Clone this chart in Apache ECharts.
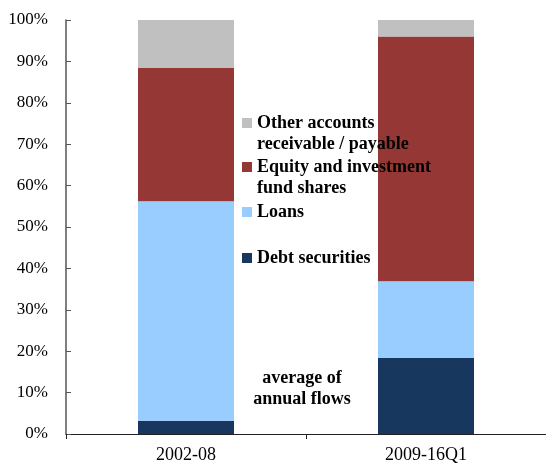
<!DOCTYPE html>
<html>
<head>
<meta charset="utf-8">
<script src="https://cdn.jsdelivr.net/npm/echarts@6/dist/echarts.min.js"></script>
<style>
  html, body { margin: 0; padding: 0; background: #fff; }
  #chart { width: 546px; height: 464px; }
</style>
</head>
<body>
<div id="chart"></div>
<script>
// categories and shares (% of total, average of annual flows)
var periods = ["2002-08", "2009-16Q1"];
var debtSecurities = [3.2, 18.4];
var loans = [53.0, 18.5];
var equityFund = [32.2, 59.1];
var otherAccounts = [11.6, 4.0];

var FONT = "'Liberation Serif', 'Times New Roman', serif";

var myChart = echarts.init(document.getElementById("chart"));

var labelStyle = {
  fontFamily: FONT,
  fontSize: 18,
  fontWeight: "bold",
  color: "#000",
  lineHeight: 21,
};

function legendFor(name, top) {
  var lines = name.split("\n");
  return {
    data: [name],
    orient: "vertical",
    left: 242,
    top: top,
    padding: 0,
    itemWidth: 10,
    itemHeight: 10,
    icon: "rect",
    selectedMode: false,
    // two-line names get an empty line on top so the icon sits on the first line
    formatter: function (n) {
      if (lines.length < 2) return "{b|" + n + "}";
      return "{e|\u00a0}\n{b|" + lines[0] + "}\n{b|" + lines[1] + "}";
    },
    textStyle: Object.assign({}, labelStyle, {
      rich: { b: labelStyle, e: labelStyle },
    }),
  };
}

var option = {
  animation: false,
  color: ["#17375E", "#99CCFF", "#953735", "#C0C0C0"],
  grid: {
    left: 66,
    top: 20,
    bottom: 30,
    width: 484,
  },
  legend: [
    legendFor("Other accounts\nreceivable / payable", 91.5),
    legendFor("Equity and investment\nfund shares", 135.5),
    legendFor("Loans", 201.5),
    legendFor("Debt securities", 247.5),
  ],
  xAxis: {
    type: "category",
    data: periods,
    axisLine: { lineStyle: { color: "#222", width: 1 } },
    axisTick: { show: true, length: 5, lineStyle: { color: "#222" } },
    axisLabel: {
      fontFamily: FONT,
      fontSize: 18,
      color: "#000",
      margin: 12,
    },
  },
  yAxis: {
    type: "value",
    min: 0,
    max: 100,
    interval: 10,
    axisLine: { show: true, lineStyle: { color: "#555", width: 1.5 } },
    axisTick: { show: true, inside: true, length: 5, lineStyle: { color: "#555" } },
    splitLine: { show: false },
    axisLabel: {
      formatter: "{value}%",
      fontFamily: FONT,
      fontSize: 17,
      color: "#000",
      margin: 18,
    },
  },
  graphic: [
    {
      type: "text",
      x: 302,
      y: 388.5,
      style: {
        text: "average of\nannual flows",
        align: "center",
        verticalAlign: "middle",
        fontFamily: FONT,
        fontSize: 18,
        fontWeight: "bold",
        lineHeight: 21,
        fill: "#000",
      },
    },
  ],
  series: [
    {
      name: "Debt securities",
      type: "bar",
      stack: "total",
      barWidth: 96,
      data: debtSecurities,
    },
    {
      name: "Loans",
      type: "bar",
      stack: "total",
      barWidth: 96,
      data: loans,
    },
    {
      name: "Equity and investment\nfund shares",
      type: "bar",
      stack: "total",
      barWidth: 96,
      data: equityFund,
    },
    {
      name: "Other accounts\nreceivable / payable",
      type: "bar",
      stack: "total",
      barWidth: 96,
      data: otherAccounts,
    },
  ],
};

myChart.setOption(option);
</script>
</body>
</html>
